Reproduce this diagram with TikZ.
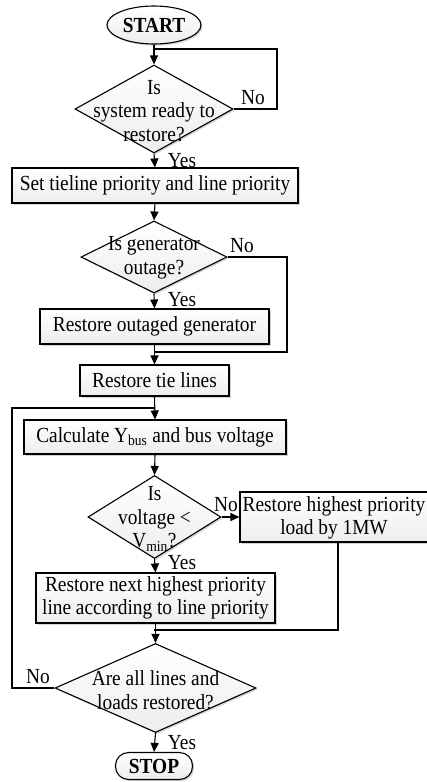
\documentclass[tikz,border=0pt]{standalone}
\usepackage{fontspec}
\setmainfont[FakeStretch=0.9]{Liberation Serif}
\usetikzlibrary{shapes.geometric,arrows.meta,shadows}
\begin{document}
\begin{tikzpicture}[x=1pt,y=-1pt,
  every node/.style={font=\fontsize{21.5}{23.5}\selectfont},
  shade box/.style={draw=black,line width=1.1pt,top color=white,bottom color=gray!14,
     drop shadow={shadow xshift=1.6pt,shadow yshift=-1.6pt,opacity=0.35,fill=gray}},
  procbox/.style={shade box,rectangle,inner sep=0pt,align=center},
  decbox/.style={shade box,diamond,inner sep=0pt,aspect=1.6},
  termbox/.style={shade box,ellipse,inner sep=0pt,font=\fontsize{21.5}{23.5}\selectfont\bfseries},
  conn/.style={line width=1.1pt},
  arr/.style={conn,-{Triangle[length=9pt,width=8pt]}},
  lbl/.style={inner sep=0pt}
]
\useasboundingbox (0,0) rectangle (427,782);

% nodes
\node[termbox,minimum width=94,minimum height=38] (start) at (154,25) {START};
\node[decbox,minimum width=158,minimum height=88] (d1) at (154,109) {};
\node[align=center,inner sep=0pt] (t1) at (154,111) {Is\\system ready to\\restore?};
\node[procbox,minimum width=286,minimum height=35] (b1) at (155,185.5) {Set tieline priority and line priority};
\node[decbox,minimum width=146,minimum height=72] (d2) at (154,257) {};
\node[align=center,inner sep=0pt] (t2) at (154,258) {Is generator\\outage?};
\node[procbox,minimum width=229,minimum height=35] (b2) at (154.5,326.5) {Restore outaged generator};
\node[procbox,minimum width=149,minimum height=31] (b3) at (154.5,380.5) {Restore tie lines};
\node[procbox,minimum width=262,minimum height=34] (b4) at (155,437) {Calculate Y\textsubscript{bus} and bus voltage};
\node[decbox,minimum width=133,minimum height=83] (d3) at (154.5,517) {};
\node[align=center,inner sep=0pt] (t3) at (154.5,519) {Is\\voltage <\\V\textsubscript{min}?};
\node[procbox,minimum width=196,minimum height=50] (b5) at (338,517) {};
\node[align=center,inner sep=0pt] (t5) at (334,518) {Restore highest priority\\load by 1MW};
\node[procbox,minimum width=239,minimum height=50] (b6) at (155.5,598) {Restore next highest priority\\line according to line priority};
\node[decbox,minimum width=201,minimum height=89] (d4) at (155.5,688) {};
\node[align=center,inner sep=0pt] (t4) at (155.5,690) {Are all lines and\\loads restored?};
\node[shade box,rectangle,rounded corners=13pt,minimum width=77,minimum height=27,inner sep=0pt,font=\fontsize{21.5}{23.5}\selectfont\bfseries] (stop) at (154,766) {STOP};

% junction coordinates
\coordinate (j1) at (154,49);
\coordinate (c1) at (277,109);
\coordinate (c1b) at (277,49);
\coordinate (c2) at (287,257);
\coordinate (c2b) at (287,352);
\coordinate (j2) at (154,352);
\coordinate (j3) at (154,408);
\coordinate (c4) at (12,688);
\coordinate (c4b) at (12,408);
\coordinate (c5) at (338,630);
\coordinate (j4) at (154,630);

% connectors
\draw[arr] (start.south) -- (d1.north);
\draw[conn] (d1.east) -- (c1) -- (c1b) -- (j1);
\draw[arr] (d1.south) -- (b1.north);
\draw[arr] (b1.south) -- (d2.north);
\draw[arr] (d2.south) -- (b2.north);
\draw[conn] (d2.east) -- (c2) -- (c2b) -- (j2);
\draw[arr] (b2.south) -- (b3.north);
\draw[arr] (b3.south) -- (b4.north);
\draw[conn] (d4.west) -- (c4) -- (c4b) -- (j3);
\draw[arr] (b4.south) -- (d3.north);
\draw[arr] (d3.east) -- (b5.west);
\draw[arr] (d3.south) -- (b6.north);
\draw[conn] (b5.south) -- (c5) -- (j4);
\draw[arr] (b6.south) -- (d4.north);
\draw[arr] (d4.south) -- (stop.north);

% labels
\node[lbl] (n1) at (253,98) {No};
\node[lbl] (y1) at (182,161) {Yes};
\node[lbl] (n2) at (242,246) {No};
\node[lbl] (y2) at (182,300) {Yes};
\node[lbl] (n3) at (226,505) {No};
\node[lbl] (y3) at (182,563) {Yes};
\node[lbl] (n4) at (38,677) {No};
\node[lbl] (y4) at (182,743) {Yes};
\end{tikzpicture}
\end{document}
